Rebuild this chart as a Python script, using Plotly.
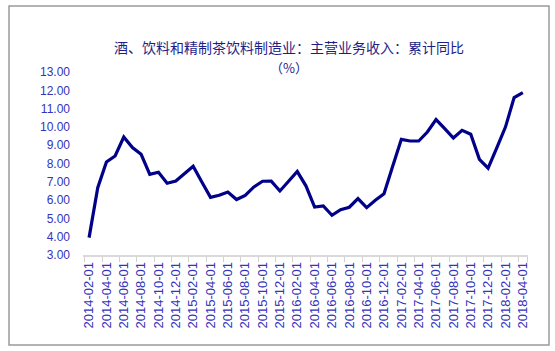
import plotly.graph_objects as go

months = []
for y in range(2014, 2019):
    for m in range(1, 13):
        if (y == 2014 and m < 2) or (y == 2018 and m > 4):
            continue
        months.append(f"{y}-{m:02d}-01")

values = [3.95, 6.68, 8.08, 8.41, 9.45, 8.87, 8.50, 7.41, 7.52, 6.92,
          7.04, 7.45, 7.85, 6.99, 6.15, 6.26, 6.44, 6.03, 6.26, 6.72,
          7.03, 7.04, 6.50, 7.03, 7.56, 6.78, 5.62, 5.68, 5.17, 5.48,
          5.61, 6.08, 5.59, 5.99, 6.35, 7.85, 9.32, 9.23, 9.23, 9.72,
          10.40, 9.91, 9.39, 9.81, 9.60, 8.23, 7.75, 8.85, 9.99, 11.60,
          11.87]

tick_labels = months[::2]
y_ticks = [3, 4, 5, 6, 7, 8, 9, 10, 11, 12, 13]

title = "酒、饮料和精制茶饮料制造业：主营业务收入：累计同比"
unit = "（%）"

fig = go.Figure(go.Scatter(x=months, y=values, mode="lines",
                           line=dict(color="#000088", width=3.2)))

L, R, T, B = 83, 27, 72, 96
W, H = 555 - L - R, 351 - T - B

def px(x):
    return (x - L) / W

def py(y):
    return (351 - B - y) / H

fig.update_layout(
    width=555, height=351,
    margin=dict(l=L, r=R, t=T, b=B),
    paper_bgcolor="white", plot_bgcolor="white",
    showlegend=False,
    font=dict(family="Liberation Sans, Arial", color="#3333bb"),
    xaxis=dict(type="category", range=[-0.7, 50.6],
               tickmode="array", tickvals=tick_labels, ticktext=tick_labels,
               tickangle=-90, tickson="boundaries",
               ticks="outside", ticklen=5, tickcolor="#d0d0d0", tickwidth=1,
               showline=True, linecolor="#d9d9d9", linewidth=1.5,
               showgrid=False, zeroline=False,
               tickfont=dict(size=13, color="#3333bb")),
    yaxis=dict(range=[3, 13], tickmode="array", tickvals=y_ticks,
               ticktext=[f"{v:.2f}" for v in y_ticks],
               showgrid=False, zeroline=False, showline=False,
               ticks="", ticklabelstandoff=12,
               tickfont=dict(size=12, color="#3333bb")),
    shapes=[dict(type="rect", xref="paper", yref="paper",
                 x0=px(9), x1=px(549), y0=py(345), y1=py(6),
                 line=dict(color="#9a9a9a", width=1.5))],
    annotations=[
        dict(text=title, xref="paper", yref="paper", x=px(289), y=py(47),
             xanchor="center", yanchor="middle", showarrow=False,
             font=dict(family="Noto Sans CJK SC", size=14, color="#1e1e88")),
        dict(text=unit, xref="paper", yref="paper", x=px(289), y=py(67),
             xanchor="center", yanchor="middle", showarrow=False,
             font=dict(family="Noto Sans CJK SC", size=13, color="#1e1e88")),
    ],
)

fig.write_html("out.html")
